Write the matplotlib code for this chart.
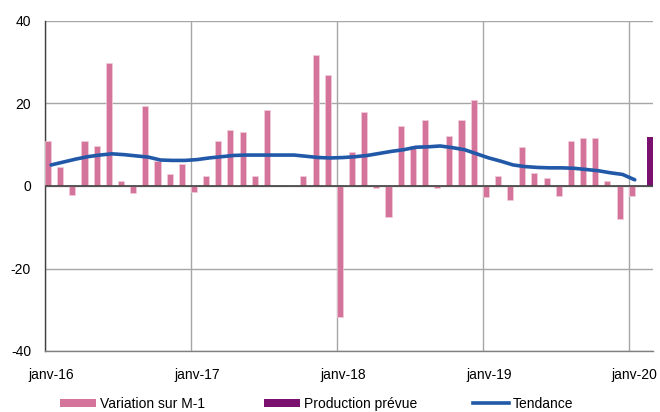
import matplotlib
matplotlib.use("Agg")
import matplotlib.pyplot as plt
from matplotlib.patches import Patch
from matplotlib.lines import Line2D

plt.rcParams['font.family'] = ['Liberation Sans', 'DejaVu Sans']

# Monthly data Jan 2016 .. Jan 2020
variation = [11.0, 4.7, -2.1, 11.0, 9.8, 29.9, 1.3, -1.8, 19.5, 6.0, 2.9, 5.4,
             -1.5, 2.5, 11.0, 13.6, 13.2, 2.5, 18.5, 0.3, -0.1, 2.5, 31.7, 27.0,
             -31.8, 8.2, 18.0, -0.5, -7.4, 14.5, 9.8, 16.1, -0.5, 12.0, 16.1, 20.8,
             -2.7, 2.5, -3.4, 9.5, 3.1, 1.9, -2.4, 11.0, 11.7, 11.7, 1.3, -8.1,
             -2.4]
tendance = [5.1, 5.8, 6.5, 7.1, 7.5, 7.8, 7.6, 7.3, 7.0, 6.3, 6.2, 6.2,
            6.4, 6.8, 7.1, 7.4, 7.5, 7.5, 7.5, 7.5, 7.5, 7.2, 6.9, 6.8,
            6.9, 7.1, 7.4, 7.9, 8.4, 8.8, 9.4, 9.5, 9.7, 9.3, 8.8, 7.8,
            6.8, 6.0, 5.1, 4.7, 4.5, 4.4, 4.4, 4.3, 4.0, 3.7, 3.2, 2.8,
            1.5]
production_prevue = [11.8]  # Feb 2020
production_index = [49]
tick_labels = ['janv-16', 'janv-17', 'janv-18', 'janv-19', 'janv-20']
tick_months = [0, 12, 24, 36, 48]
n_slots = 50

PINK = '#D4749A'
PURPLE = '#7B116E'
BLUE = '#2159A8'

fig = plt.figure(figsize=(6.6, 4.12), dpi=100)
ax = fig.add_axes([45/660, 1-351/412, (653-45)/660, (351-21)/412])

x_var = list(range(len(variation)))
ax.bar(x_var, variation, width=0.5, align='edge', color=PINK,
       edgecolor='#F3CCDB', linewidth=0.5, zorder=3)
ax.bar([p + 0.5 for p in production_index], production_prevue, width=0.5,
       align='edge', color=PURPLE, linewidth=0, zorder=3)
ax.plot([i + 0.5 for i in range(len(tendance))], tendance, color=BLUE,
        linewidth=2.6, solid_capstyle='round', solid_joinstyle='round', zorder=4)

ax.set_xlim(0, n_slots)
ax.set_ylim(-40, 40)
ax.set_yticks([-40, -20, 0, 20, 40])
ax.set_yticklabels(['-40', '-20', '0', '20', '40'])
ax.set_xticks(tick_months)
ax.set_xticklabels([''] * len(tick_months))
ax.set_xticks([m + 0.5 for m in tick_months], minor=True)
ax.set_xticklabels(tick_labels, minor=True)
ax.tick_params(axis='both', which='both', length=0, labelsize=10, colors='black')
ax.tick_params(axis='y', pad=10)
ax.tick_params(axis='x', which='minor', pad=12)

ax.grid(True, which='major', color='#A6A6A6', linewidth=1.0, zorder=0)
ax.axhline(0, color='#404040', linewidth=1.2, zorder=5)

for s in ['top', 'right']:
    ax.spines[s].set_visible(False)
ax.spines['left'].set_color('#404040')
ax.spines['left'].set_linewidth(1.0)
ax.spines['bottom'].set_color('#808080')
ax.spines['bottom'].set_linewidth(1.0)

yc = 1 - 404/412
entries = [
    (Patch(facecolor=PINK, edgecolor='none'), 'Variation sur M-1', 60),
    (Patch(facecolor=PURPLE, edgecolor='none'), 'Production prévue', 264),
    (Line2D([0], [0], color=BLUE, linewidth=2.6), 'Tendance', 473),
]
for h, lab, xpx in entries:
    fig.legend([h], [lab], loc='center left', bbox_to_anchor=(xpx/660, yc),
               frameon=False, fontsize=10, borderpad=0, borderaxespad=0,
               handlelength=2.6, handleheight=0.55, handletextpad=0.25)

fig.savefig('out.png', dpi=100)
